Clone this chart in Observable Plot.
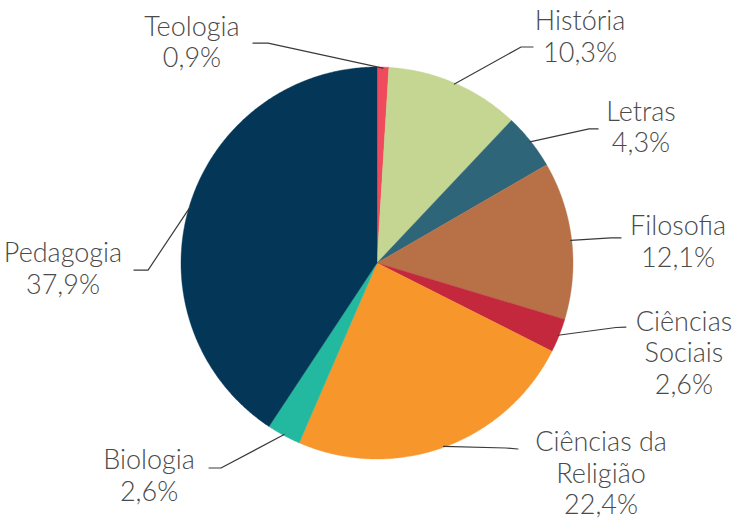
<!DOCTYPE html>
<html>
<head>
<meta charset="utf-8">
<script src="https://cdn.jsdelivr.net/npm/d3@7"></script>
<script src="https://cdn.jsdelivr.net/npm/@observablehq/plot@0.6"></script>
<style>
  html, body { margin: 0; padding: 0; background: #ffffff; }
  svg { display: block; }
</style>
</head>
<body>
<div id="chart"></div>
<script>
// ---- data ----
const categories = ["Teologia", "História", "Letras", "Filosofia", "Ciências Sociais", "Ciências da Religião", "Biologia", "Pedagogia"];
const values = [0.9, 10.3, 4.3, 12.1, 2.6, 22.4, 2.6, 37.9];
const colors = ["#ef4b5c", "#c5d692", "#2e6578", "#b87147", "#c3283c", "#f7962b", "#23b9a0", "#043757"];

// ---- label placement (in pie-radius units, centre = 0,0, y up) ----
// text: centre x / last-line baseline y; elbow and end of leader line
const labelText  = [[-0.944, 1.000], [1.036, 1.026], [1.347, 0.566], [1.536, -0.020], [1.566, -0.668], [1.143, -1.281], [-1.163, -1.214], [-1.602, -0.158]];
const labelElbow = [[-0.556, 1.122], [0.735, 1.102], [1.082, 0.684], [1.194, 0.128], [1.219, -0.329], [0.658, -0.944], [-0.796, -1.046], [-1.168, -0.036]];
const labelEnd   = [[-0.633, 1.122], [0.796, 1.102], [1.128, 0.684], [1.245, 0.128], [1.270, -0.327], [0.719, -0.949], [-0.857, -1.046], [-1.240, -0.036]];

// ---- layout ----
const W = 735, H = 522, R = 196, CX = 376.5, CY = 262.5;

const data = categories.map((c, i) => ({category: c, value: values[i]}));
const arcs = d3.pie().sort(null).value(d => d.value)(data);

const slicePts = [];
arcs.forEach(a => {
  const c = a.data.category;
  const n = Math.max(2, Math.ceil((a.endAngle - a.startAngle) / (Math.PI / 360)));
  slicePts.push({category: c, x: 0, y: 0});
  for (let i = 0; i <= n; ++i) {
    const t = a.startAngle + (a.endAngle - a.startAngle) * i / n;
    slicePts.push({category: c, x: Math.sin(t), y: Math.cos(t)});
  }
  slicePts.push({category: c, x: 0, y: 0});
});

const wrap = s => {
  if (s.length <= 12) return s;
  const k = s.lastIndexOf(" ");
  return s.slice(0, k) + "\n" + s.slice(k + 1);
};
const fmt = v => v.toFixed(1).replace(".", ",") + "%";

const leaderPts = [];
const labels = [];
arcs.forEach((a, i) => {
  const c = a.data.category;
  const m = (a.startAngle + a.endAngle) / 2;
  leaderPts.push({category: c, x: 0.995 * Math.sin(m), y: 0.995 * Math.cos(m)});
  leaderPts.push({category: c, x: labelElbow[i][0], y: labelElbow[i][1]});
  leaderPts.push({category: c, x: labelEnd[i][0], y: labelEnd[i][1]});
  labels.push({category: c, x: labelText[i][0], y: labelText[i][1], text: wrap(c) + "\n" + fmt(a.data.value)});
});

const chart = Plot.plot({
  width: W,
  height: H,
  margin: 0,
  x: {domain: [-CX / R, (W - CX) / R], axis: null},
  y: {domain: [-(H - CY) / R, CY / R], axis: null},
  color: {domain: categories, range: colors},
  marks: [
    Plot.line(slicePts, {x: "x", y: "y", z: "category", fill: "category", stroke: "category", strokeWidth: 0.4, curve: "linear"}),
    Plot.line(leaderPts, {x: "x", y: "y", z: "category", stroke: "#3a3a3a", strokeWidth: 1.2, curve: "linear"}),
    Plot.text(labels, {
      x: "x", y: "y", text: "text",
      textAnchor: "middle", lineAnchor: "bottom", lineHeight: 1.167,
      fontSize: 27, fontFamily: "Lato", fontWeight: 300, fill: "#4a4a4a"
    })
  ]
});
document.getElementById("chart").appendChild(chart);
</script>
</body>
</html>
